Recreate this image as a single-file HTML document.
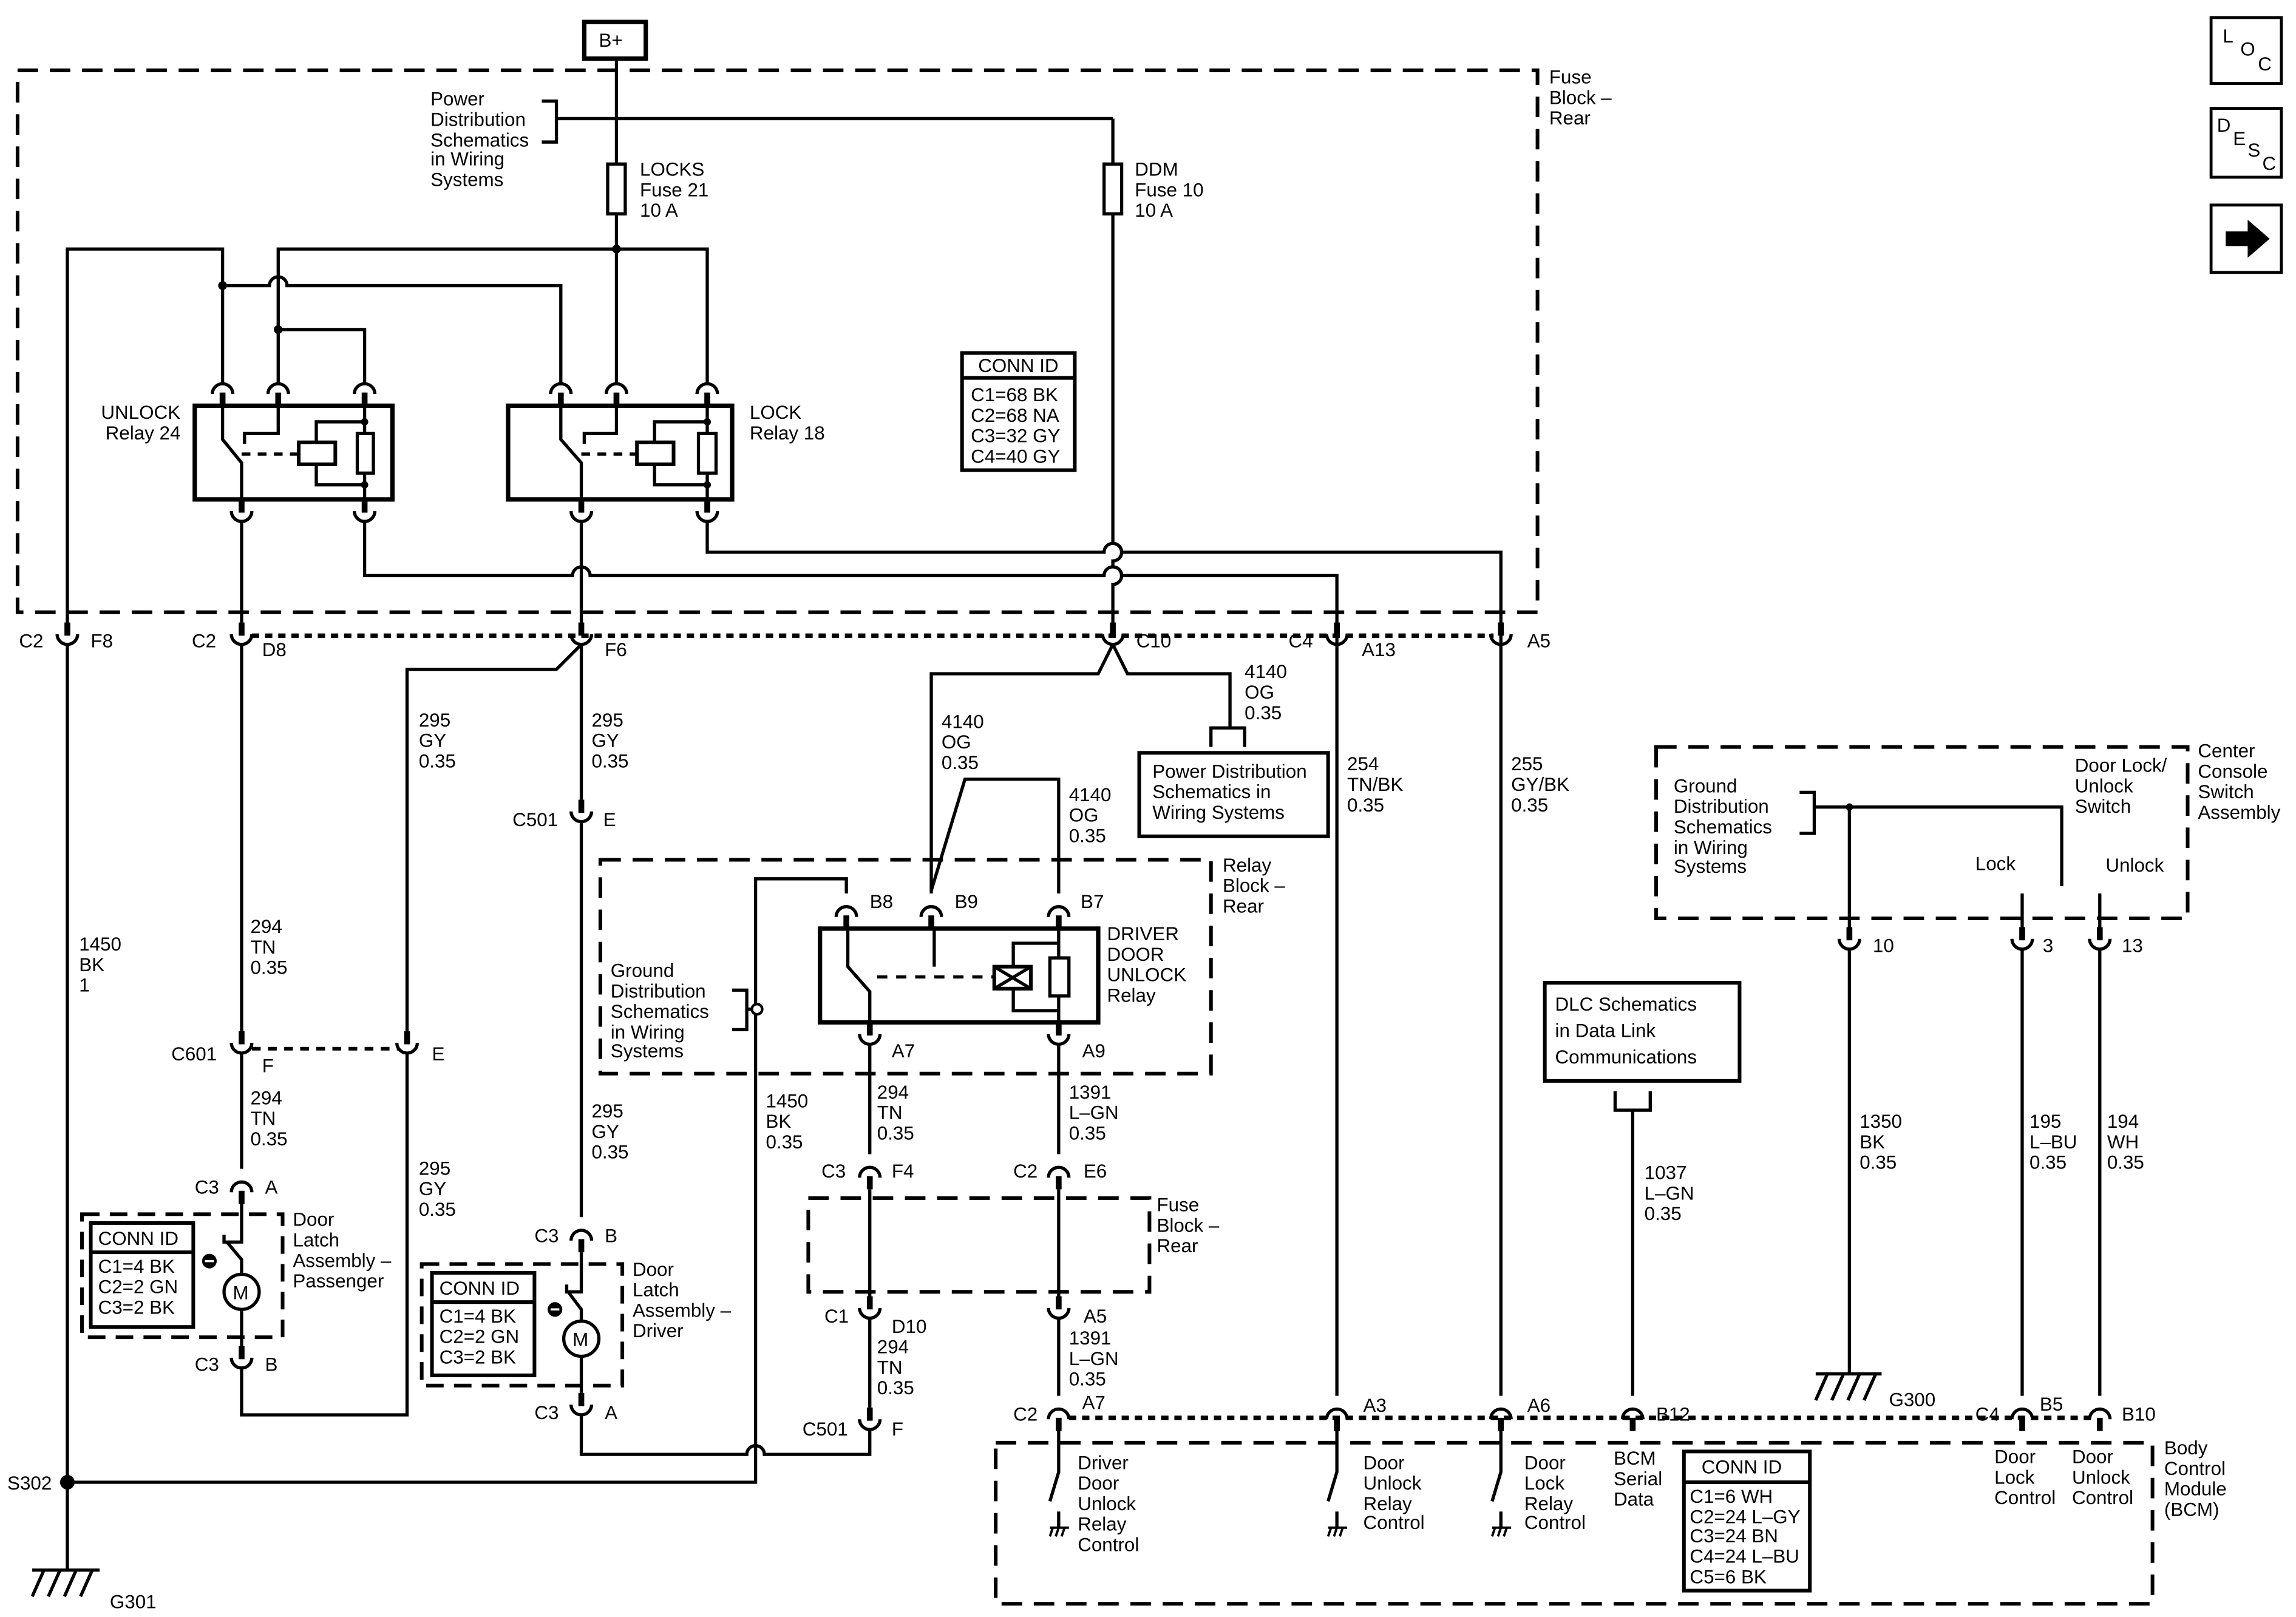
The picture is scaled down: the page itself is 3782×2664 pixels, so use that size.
<!DOCTYPE html>
<html><head><meta charset="utf-8"><style>
html,body{margin:0;padding:0;background:#fff}
svg{display:block}
text{font-family:"Liberation Sans",Arial,sans-serif;font-size:13px;fill:#000}
</style></head><body>
<svg width="3782" height="2664" viewBox="0 0 1568 1104" preserveAspectRatio="none" xmlns="http://www.w3.org/2000/svg">
<defs>
<g id="cd" fill="none" stroke="#000"><line x1="0" y1="-12" x2="0" y2="-3" stroke-width="4"/><path d="M-7,-4 a7,7 0 0 0 14,0" stroke-width="2.2"/></g>
<g id="cu" fill="none" stroke="#000"><path d="M-7,4 a7,7 0 0 1 14,0" stroke-width="2.2"/><line x1="0" y1="3" x2="0" y2="12" stroke-width="4"/></g>
<g id="gnd" fill="none" stroke="#000" stroke-width="2"><line x1="-4" y1="0" x2="-4" y2="-6"/><line x1="-4" y1="0" x2="8" y2="0"/><line x1="-2" y1="0" x2="-4" y2="7"/><line x1="2" y1="0" x2="0" y2="7"/><line x1="6" y1="0" x2="4" y2="7"/></g>
</defs>
<rect width="1568" height="1104" fill="#fff"/>
<g fill="none" stroke="#000" stroke-width="2.2">
<!-- B+ -->
<rect x="399" y="15" width="42" height="25" stroke-width="3"/>
<line x1="421" y1="40" x2="421" y2="112"/>
<rect x="415" y="112" width="12" height="34"/>
<line x1="421" y1="146" x2="421" y2="262"/>
<path d="M370,69 H380 V97 H370"/>
<line x1="380" y1="81" x2="760" y2="81"/>
<line x1="760" y1="81" x2="760" y2="112"/>
<rect x="754" y="112" width="12" height="34"/>
<path d="M760,146 V371 a6,6 0 0 1 0,12 V387 a6,6 0 0 1 0,12 V425"/>
<!-- outer fuse block dashed -->
<rect x="12" y="48" width="1038" height="370" stroke-dasharray="14 8" stroke-width="2.5"/>
<!-- relay feeds -->
<path d="M46,425 V170 H152 V262"/>
<path d="M190,262 V170 H483 V262"/>
<path d="M152,195 H184 a6,6 0 0 1 12,0 H383 V262"/>
<path d="M190,225 H249 V262"/>
</g>
<circle cx="421" cy="170" r="3" /><circle cx="152" cy="195" r="3"/><circle cx="190" cy="225" r="3"/>
<!-- UNLOCK relay -->
<g fill="none" stroke="#000" stroke-width="2.2">
<rect x="133" y="277" width="135" height="64" stroke-width="3"/>
<path d="M152,277 V300 L165,316 V341"/>
<path d="M190,277 V296 H167 V303"/>
<path d="M165,310 H203" stroke-dasharray="6 5"/>
<rect x="204" y="302" width="25" height="15" stroke-width="2.5"/>
<path d="M216,302 V288 H249 M216,317 V331 H249 M249,277 V341"/>
<rect x="244" y="296" width="11" height="27" fill="#fff"/>
<rect x="347" y="277" width="153" height="64" stroke-width="3"/>
<path d="M383,277 V300 L397,316 V341"/>
<path d="M421,277 V296 H399 V303"/>
<path d="M397,310 H434" stroke-dasharray="6 5"/>
<rect x="435" y="302" width="25" height="15" stroke-width="2.5"/>
<path d="M447,302 V288 H483 M447,317 V331 H483 M483,277 V341"/>
<rect x="477" y="296" width="12" height="27" fill="#fff"/>
</g>
<circle cx="249" cy="288" r="2.5"/><circle cx="249" cy="331" r="2.5"/><circle cx="483" cy="288" r="2.5"/><circle cx="483" cy="331" r="2.5"/>
<g><use href="#cu" x="152" y="265"/><use href="#cu" x="190" y="265"/><use href="#cu" x="249" y="265"/>
<use href="#cu" x="383" y="265"/><use href="#cu" x="421" y="265"/><use href="#cu" x="483" y="265"/>
<use href="#cd" x="165" y="353"/><use href="#cd" x="249" y="353"/><use href="#cd" x="397" y="353"/><use href="#cd" x="483" y="353"/></g>
<!-- below relays -->
<g fill="none" stroke="#000" stroke-width="2.2">
<path d="M249,356 V393 H391 a6,6 0 0 1 12,0 H754 a6,6 0 0 1 12,0 H913 V953"/>
<path d="M483,356 V377 H754 a6,6 0 0 1 12,0 H1025 V953"/>
<line x1="165" y1="356" x2="165" y2="425"/>
<line x1="397" y1="356" x2="397" y2="425"/>
<path d="M172,434 H1020" stroke-dasharray="5 4" stroke-width="3"/>
<!-- 165 chain -->
<path d="M165,440 V704 M165,719 V798 M165,822 V848 H153 V843 M155,848 L165,860 V870 M165,894 V919 M165,934 V966 H278 V719"/>
<path d="M172,716 H272" stroke-dasharray="6 5" stroke-width="2.5"/>
<circle cx="165" cy="882" r="12"/>
<rect x="56" y="829" width="137" height="84" stroke-dasharray="12 7" stroke-width="2.5"/>
<rect x="62" y="835" width="70" height="71" stroke-width="2.5"/>
<line x1="62" y1="855" x2="132" y2="855" stroke-width="2.5"/>
<!-- F6 -->
<path d="M397,440 L380,457 H278 V704"/>
<path d="M397,440 V546 M397,561 V831 M397,855 V882 H387 V877 M388,882 L397,894 V902 M397,926 V951 M397,966 V993 H510 a6,6 0 0 1 12,0 H594 V976"/>
<circle cx="397" cy="914" r="12"/>
<rect x="288" y="863" width="137" height="83" stroke-dasharray="12 7" stroke-width="2.5"/>
<rect x="295" y="869" width="70" height="70" stroke-width="2.5"/>
<line x1="295" y1="889" x2="365" y2="889" stroke-width="2.5"/>
<!-- left ground line -->
<path d="M46,440 V1012 H516 V600 H578 V610"/>
<line x1="46" y1="1012" x2="46" y2="1072"/>
<!-- C10 -->
<path d="M760,440 L750,460 H636 V610 M760,440 L770,460 H840 V497 M827,510 V497 H850 V510"/>
<rect x="778" y="514" width="129" height="57" stroke-width="2.5"/>
<path d="M723,610 V532 H659 L636,608"/>
<rect x="410" y="587" width="417" height="146" stroke-dasharray="14 8" stroke-width="2.5"/>
<path d="M500,676 H510 V703 H500 M510,689 H514"/>
<!-- driver relay -->
<rect x="560" y="634" width="190" height="64" stroke-width="3"/>
<path d="M579,634 V660 L594,677 V698 M638,634 V660 M723,634 V698"/>
<path d="M599,667 H679" stroke-dasharray="7 6"/>
<rect x="679" y="660" width="25" height="15" stroke-width="2.5"/>
<path d="M679,660 L704,675 M704,660 L679,675"/>
<path d="M692,660 V644 H723 M692,675 V690 H723"/>
<rect x="717" y="654" width="13" height="26" fill="#fff"/>
<path d="M594,713 V788 M594,812 V885 M594,900 V961 M723,713 V788 M723,812 V885 M723,900 V953"/>
<rect x="552" y="818" width="233" height="64" stroke-dasharray="14 8" stroke-width="2.5"/>
<!-- DLC -->
<rect x="1055" y="671" width="133" height="67" stroke-width="2.5"/>
<path d="M1103,745 V758 H1127 V745 M1115,758 V953"/>
<!-- center console -->
<rect x="1131" y="510" width="363" height="117" stroke-dasharray="14 8" stroke-width="2.5"/>
<path d="M1229,541 H1239 V569 H1229 M1239,551 H1408 V605"/>
<path d="M1263,551 V633 M1381,610 V633 M1434,610 V633"/>
<path d="M1263,648 V938 M1381,648 V953 M1434,648 V953"/>
<path d="M1240,938 H1285 M1248,938 L1240,956 M1259,938 L1251,956 M1270,938 L1262,956 M1281,938 L1273,956" />
<path d="M22,1072 H68 M30,1072 L22,1090 M41,1072 L33,1090 M52,1072 L44,1090 M63,1072 L55,1090"/>
<!-- BCM -->
<rect x="680" y="985" width="790" height="110" stroke-dasharray="14 8" stroke-width="2.5"/>
<path d="M730,968 H1430" stroke-dasharray="5 4" stroke-width="3"/>
<path d="M723,977 V1005 L717,1025 M913,977 V1005 L907,1025 M1025,977 V1005 L1019,1025"/>
<path d="M723,1032 V1043 M913,1032 V1043 M1025,1032 V1043"/>
<rect x="1150" y="991" width="86" height="95" stroke-width="2.5"/>
<line x1="1150" y1="1012" x2="1236" y2="1012" stroke-width="2.5"/>
<!-- icons -->
<rect x="1510" y="12" width="48" height="45" stroke-width="2"/>
<rect x="1510" y="74" width="48" height="47" stroke-width="2"/>
<rect x="1510" y="140" width="48" height="46" stroke-width="2"/>
</g>
<path d="M1520,158 H1535 V150 L1550,163 L1535,176 V168 H1520 Z" fill="#000"/>
<g fill="#000"><path d="M716,1043 h14 M906,1043 h14"/></g>
<g fill="none" stroke="#000" stroke-width="1.6">
<path d="M717,1043 H730 M719,1043 L717,1049 M723,1043 L721,1049 M727,1043 L725,1049"/>
<path d="M907,1043 H920 M909,1043 L907,1049 M913,1043 L911,1049 M917,1043 L915,1049"/>
<path d="M1019,1043 H1032 M1021,1043 L1019,1049 M1025,1043 L1023,1049 M1029,1043 L1027,1049"/>
</g>
<circle cx="46" cy="1012" r="5"/>
<circle cx="1263" cy="551" r="2.5"/>
<circle cx="517" cy="689" r="3.5" fill="#fff" stroke="#000" stroke-width="1.8"/>
<circle cx="143" cy="861" r="5"/><line x1="140" y1="861" x2="146" y2="861" stroke="#fff" stroke-width="1.5"/>
<circle cx="379" cy="894" r="5"/><line x1="376" y1="894" x2="382" y2="894" stroke="#fff" stroke-width="1.5"/>
<g>
<use href="#cd" x="46" y="437"/><use href="#cd" x="165" y="437"/><use href="#cd" x="397" y="437"/><use href="#cd" x="760" y="437"/><use href="#cd" x="913" y="437"/><use href="#cd" x="1025" y="437"/>
<use href="#cd" x="397" y="558"/><use href="#cd" x="165" y="716"/><use href="#cd" x="278" y="716"/><use href="#cd" x="165" y="931"/><use href="#cd" x="397" y="963"/>
<use href="#cd" x="594" y="710"/><use href="#cd" x="723" y="710"/><use href="#cd" x="594" y="897"/><use href="#cd" x="723" y="897"/><use href="#cd" x="594" y="973"/>
<use href="#cd" x="1263" y="645"/><use href="#cd" x="1381" y="645"/><use href="#cd" x="1434" y="645"/>
<use href="#cu" x="578" y="622"/><use href="#cu" x="636" y="622"/><use href="#cu" x="723" y="622"/>
<use href="#cu" x="165" y="810"/><use href="#cu" x="397" y="843"/><use href="#cu" x="594" y="800"/><use href="#cu" x="723" y="800"/>
<use href="#cu" x="723" y="965"/><use href="#cu" x="913" y="965"/><use href="#cu" x="1025" y="965"/><use href="#cu" x="1115" y="965"/><use href="#cu" x="1381" y="965"/><use href="#cu" x="1434" y="965"/>
</g>
<!-- TEXT -->
<text x="409" y="32" font-size="14">B+</text>
<text x="294" y="72">Power</text><text x="294" y="86">Distribution</text><text x="294" y="100">Schematics</text><text x="294" y="113">in Wiring</text><text x="294" y="127">Systems</text>
<text x="437" y="120">LOCKS</text><text x="437" y="134">Fuse 21</text><text x="437" y="148">10 A</text>
<text x="775" y="120">DDM</text><text x="775" y="134">Fuse 10</text><text x="775" y="148">10 A</text>
<text x="1058" y="57">Fuse</text><text x="1058" y="71">Block –</text><text x="1058" y="85">Rear</text>
<text x="69" y="286">UNLOCK</text><text x="72" y="300">Relay 24</text>
<text x="512" y="286">LOCK</text><text x="512" y="300">Relay 18</text>
<rect x="657" y="241" width="77" height="80" fill="none" stroke="#000" stroke-width="2.5"/>
<line x1="657" y1="258" x2="734" y2="258" stroke="#000" stroke-width="2.5"/>
<text x="668" y="254">CONN ID</text><text x="663" y="274">C1=68 BK</text><text x="663" y="288">C2=68 NA</text><text x="663" y="302">C3=32 GY</text><text x="663" y="316">C4=40 GY</text>
<text x="13" y="442">C2</text><text x="62" y="442">F8</text>
<text x="131" y="442">C2</text><text x="179" y="448">D8</text>
<text x="413" y="448">F6</text><text x="776" y="442">C10</text>
<text x="880" y="442">C4</text><text x="930" y="448">A13</text><text x="1043" y="442">A5</text>
<text x="850" y="463">4140</text><text x="850" y="477">OG</text><text x="850" y="491">0.35</text>
<text x="787" y="531">Power Distribution</text><text x="787" y="545">Schematics in</text><text x="787" y="559">Wiring Systems</text>
<text x="643" y="497">4140</text><text x="643" y="511">OG</text><text x="643" y="525">0.35</text>
<text x="730" y="547">4140</text><text x="730" y="561">OG</text><text x="730" y="575">0.35</text>
<text x="286" y="496">295</text><text x="286" y="510">GY</text><text x="286" y="524">0.35</text>
<text x="404" y="496">295</text><text x="404" y="510">GY</text><text x="404" y="524">0.35</text>
<text x="920" y="526">254</text><text x="920" y="540">TN/BK</text><text x="920" y="554">0.35</text>
<text x="1032" y="526">255</text><text x="1032" y="540">GY/BK</text><text x="1032" y="554">0.35</text>
<text x="350" y="564">C501</text><text x="412" y="564">E</text>
<text x="835" y="595">Relay</text><text x="835" y="609">Block –</text><text x="835" y="623">Rear</text>
<text x="594" y="620">B8</text><text x="652" y="620">B9</text><text x="738" y="620">B7</text>
<text x="756" y="642">DRIVER</text><text x="756" y="656">DOOR</text><text x="756" y="670">UNLOCK</text><text x="756" y="684">Relay</text>
<text x="417" y="667">Ground</text><text x="417" y="681">Distribution</text><text x="417" y="695">Schematics</text><text x="417" y="709">in Wiring</text><text x="417" y="722">Systems</text>
<text x="609" y="722">A7</text><text x="739" y="722">A9</text>
<text x="54" y="649">1450</text><text x="54" y="663">BK</text><text x="54" y="677">1</text>
<text x="171" y="637">294</text><text x="171" y="651">TN</text><text x="171" y="665">0.35</text>
<text x="117" y="724">C601</text><text x="179" y="732">F</text><text x="295" y="724">E</text>
<text x="171" y="754">294</text><text x="171" y="768">TN</text><text x="171" y="782">0.35</text>
<text x="404" y="763">295</text><text x="404" y="777">GY</text><text x="404" y="791">0.35</text>
<text x="286" y="802">295</text><text x="286" y="816">GY</text><text x="286" y="830">0.35</text>
<text x="523" y="756">1450</text><text x="523" y="770">BK</text><text x="523" y="784">0.35</text>
<text x="599" y="750">294</text><text x="599" y="764">TN</text><text x="599" y="778">0.35</text>
<text x="730" y="750">1391</text><text x="730" y="764">L–GN</text><text x="730" y="778">0.35</text>
<text x="133" y="815">C3</text><text x="181" y="815">A</text>
<text x="365" y="848">C3</text><text x="413" y="848">B</text>
<text x="561" y="804">C3</text><text x="609" y="804">F4</text><text x="692" y="804">C2</text><text x="740" y="804">E6</text>
<text x="790" y="827">Fuse</text><text x="790" y="841">Block –</text><text x="790" y="855">Rear</text>
<text x="200" y="837">Door</text><text x="200" y="851">Latch</text><text x="200" y="865">Assembly –</text><text x="200" y="879">Passenger</text>
<text x="67" y="850">CONN ID</text><text x="67" y="869">C1=4 BK</text><text x="67" y="883">C2=2 GN</text><text x="67" y="897">C3=2 BK</text>
<text x="432" y="871">Door</text><text x="432" y="885">Latch</text><text x="432" y="899">Assembly –</text><text x="432" y="913">Driver</text>
<text x="300" y="884">CONN ID</text><text x="300" y="903">C1=4 BK</text><text x="300" y="917">C2=2 GN</text><text x="300" y="931">C3=2 BK</text>
<text x="159" y="887" font-size="11">M</text><text x="391" y="919" font-size="11">M</text>
<text x="133" y="936">C3</text><text x="181" y="936">B</text>
<text x="365" y="969">C3</text><text x="413" y="969">A</text>
<text x="563" y="903">C1</text><text x="609" y="910">D10</text><text x="740" y="903">A5</text>
<text x="599" y="924">294</text><text x="599" y="938">TN</text><text x="599" y="952">0.35</text>
<text x="730" y="918">1391</text><text x="730" y="932">L–GN</text><text x="730" y="946">0.35</text>
<text x="548" y="980">C501</text><text x="609" y="980">F</text>
<text x="692" y="970">C2</text><text x="739" y="962">A7</text><text x="931" y="964">A3</text><text x="1043" y="964">A6</text><text x="1131" y="970">B12</text>
<text x="1349" y="970">C4</text><text x="1393" y="963">B5</text><text x="1449" y="970">B10</text>
<text x="5" y="1017">S302</text><text x="75" y="1098">G301</text><text x="1290" y="960">G300</text>
<text x="1062" y="690" font-size="14">DLC Schematics</text><text x="1062" y="708" font-size="14">in Data Link</text><text x="1062" y="726" font-size="14">Communications</text>
<text x="1123" y="805">1037</text><text x="1123" y="819">L–GN</text><text x="1123" y="833">0.35</text>
<text x="1501" y="517">Center</text><text x="1501" y="531">Console</text><text x="1501" y="545">Switch</text><text x="1501" y="559">Assembly</text>
<text x="1143" y="541">Ground</text><text x="1143" y="555">Distribution</text><text x="1143" y="569">Schematics</text><text x="1143" y="583">in Wiring</text><text x="1143" y="596">Systems</text>
<text x="1417" y="527">Door Lock/</text><text x="1417" y="541">Unlock</text><text x="1417" y="555">Switch</text>
<text x="1349" y="594">Lock</text><text x="1438" y="595">Unlock</text>
<text x="1279" y="650">10</text><text x="1395" y="650">3</text><text x="1449" y="650">13</text>
<text x="1270" y="770">1350</text><text x="1270" y="784">BK</text><text x="1270" y="798">0.35</text>
<text x="1386" y="770">195</text><text x="1386" y="784">L–BU</text><text x="1386" y="798">0.35</text>
<text x="1439" y="770">194</text><text x="1439" y="784">WH</text><text x="1439" y="798">0.35</text>
<text x="1478" y="993">Body</text><text x="1478" y="1007">Control</text><text x="1478" y="1021">Module</text><text x="1478" y="1035">(BCM)</text>
<text x="736" y="1003">Driver</text><text x="736" y="1017">Door</text><text x="736" y="1031">Unlock</text><text x="736" y="1045">Relay</text><text x="736" y="1059">Control</text>
<text x="931" y="1003">Door</text><text x="931" y="1017">Unlock</text><text x="931" y="1031">Relay</text><text x="931" y="1044">Control</text>
<text x="1041" y="1003">Door</text><text x="1041" y="1017">Lock</text><text x="1041" y="1031">Relay</text><text x="1041" y="1044">Control</text>
<text x="1102" y="1000">BCM</text><text x="1102" y="1014">Serial</text><text x="1102" y="1028">Data</text>
<text x="1162" y="1006">CONN ID</text><text x="1154" y="1026">C1=6 WH</text><text x="1154" y="1040">C2=24 L–GY</text><text x="1154" y="1053">C3=24 BN</text><text x="1154" y="1067">C4=24 L–BU</text><text x="1154" y="1081">C5=6 BK</text>
<text x="1362" y="999">Door</text><text x="1362" y="1013">Lock</text><text x="1362" y="1027">Control</text>
<text x="1415" y="999">Door</text><text x="1415" y="1013">Unlock</text><text x="1415" y="1027">Control</text>
<text x="1518" y="29">L</text><text x="1530" y="38">O</text><text x="1542" y="48">C</text>
<text x="1514" y="90">D</text><text x="1525" y="99">E</text><text x="1535" y="107">S</text><text x="1545" y="116">C</text>
</svg>
</body></html>
